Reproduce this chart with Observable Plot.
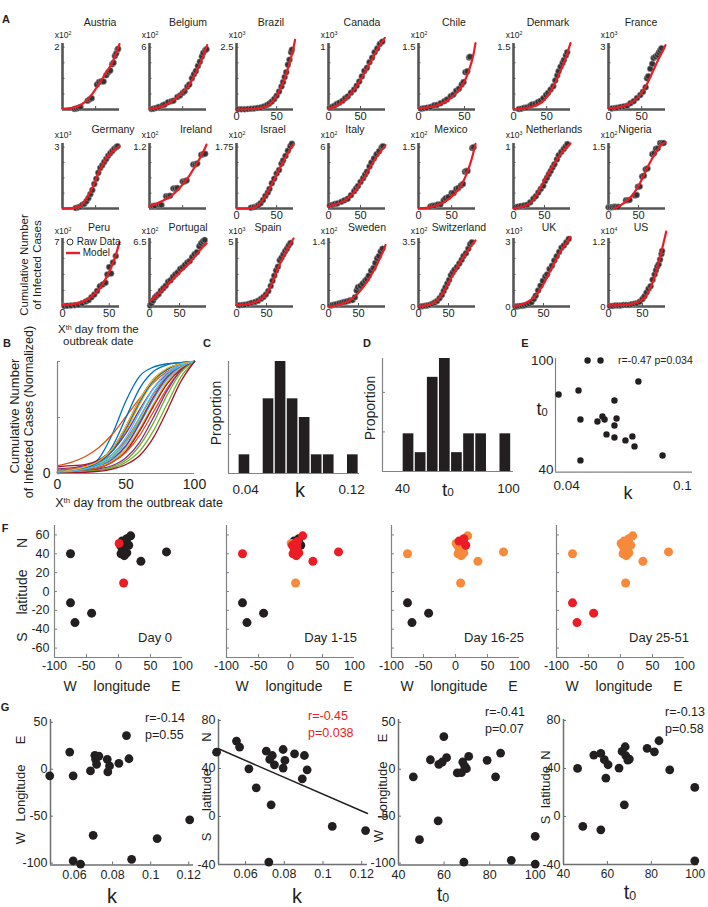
<!DOCTYPE html>
<html><head><meta charset="utf-8">
<script src="https://cdn.jsdelivr.net/npm/d3@7"></script>
<script src="https://cdn.jsdelivr.net/npm/@observablehq/plot@0.6"></script>
<style>
html,body{margin:0;padding:0;background:#fff;}
#root{position:relative;width:708px;height:907px;overflow:hidden;background:#fff;font-family:"Liberation Sans",Arial,Helvetica,sans-serif;color:#231f20;}
#root svg{position:absolute;overflow:visible;}
.t{position:absolute;white-space:nowrap;line-height:1;}
.sup{font-size:0.62em;vertical-align:0.5em;}
.sub{font-size:0.62em;vertical-align:-0.05em;}
</style></head>
<body><div id="root"></div>
<script>
// ===================== DATA =====================
// Panel A: countries, axis multipliers, top tick values, day range
const countries = ["Austria","Belgium","Brazil","Canada","Chile","Denmark","France",
  "Germany","Ireland","Israel","Italy","Mexico","Netherlands","Nigeria",
  "Peru","Portugal","Spain","Sweden","Switzerland","UK","US"];
const multiplier = ["2","2","3","3","2","2","3", "3","2","2","2","2","3","2", "2","2","3","2","2","3","4"];
const topTick = [2,6,2.5,1,1.5,1.5,3, 3,1.2,1.75,6,1.5,1,1.5, 7,6.5,5,1.4,3.5,3,1.2];
const topTickText = ["2","6","2.5","1","1.5","1.5","3","3","1.2","1.75","6","1.5","1","1.5","7","6.5","5","1.4","3.5","3","1.2"];
const dayMax = [86,86,71,89,62,86,86, 86,86,71,89,86,92,95, 61,95,95,95,95,95,84];
const showDayLabels = [false,false,true,true,true,true,true, false,false,true,true,true,true,true, true,true,true,true,true,true,true];
const showZeroLabel = [false,false,false,false,false,false,false, false,false,false,false,false,false,false, false,false,false,true,true,true,true];

// Raw data [day, cases in axis units] per country
const rawData = [
  [[18,0.02],[21,0.03],[24,0.05],[27,0.08],[38,0.28],[41,0.33],[44,0.36],[52,0.8],[55,0.88],[58,0.9],[62,0.9],[66,1.1],[69,1.2],[72,1.25],[75,1.45],[77,1.5],[79,1.72],[81,1.8],[83,1.92],[84,1.95]],
  [[3,0.05],[6,0.08],[10,0.15],[14,0.25],[20,0.42],[23,0.48],[28,0.7],[33,0.8],[36,0.85],[42,1.2],[46,1.35],[50,1.6],[53,1.75],[57,2.2],[60,2.4],[64,3.0],[67,3.4],[70,3.7],[73,4.2],[76,4.6],[79,5.1],[81,5.45],[84,5.7],[86,5.8]],
  [[2,0.01],[6,0.01],[10,0.01],[14,0.02],[18,0.03],[22,0.04],[26,0.06],[30,0.08],[34,0.12],[38,0.18],[41,0.24],[44,0.32],[47,0.42],[50,0.55],[53,0.72],[56,0.92],[58,1.1],[60,1.3],[62,1.5],[64,1.8],[66,2.0],[68,2.3],[69,2.4]],
  [[2,0.03],[5,0.04],[9,0.06],[13,0.09],[17,0.11],[22,0.14],[26,0.18],[30,0.21],[35,0.27],[40,0.32],[44,0.38],[48,0.45],[52,0.53],[56,0.62],[60,0.67],[64,0.76],[68,0.83],[72,0.92],[76,0.98],[80,1.05],[84,1.09]],
  [[3,0.02],[6,0.03],[9,0.04],[13,0.06],[17,0.1],[20,0.11],[24,0.15],[28,0.2],[31,0.24],[35,0.32],[38,0.36],[41,0.45],[44,0.5],[47,0.6],[49,0.66],[51,0.9],[53,0.92],[55,1.25],[56,1.27]],
  [[8,0.01],[12,0.02],[16,0.04],[20,0.05],[25,0.09],[28,0.12],[33,0.14],[37,0.18],[41,0.21],[45,0.27],[49,0.35],[52,0.4],[56,0.48],[60,0.56],[63,0.7],[66,0.82],[68,0.92],[71,1.03],[74,1.12],[76,1.19],[79,1.3],[81,1.38]],
  [[5,0.05],[10,0.07],[13,0.08],[18,0.12],[23,0.15],[28,0.18],[33,0.3],[38,0.4],[43,0.55],[48,0.7],[52,0.85],[56,1.07],[58,1.5],[60,1.6],[63,1.96],[66,2.2],[68,2.48],[71,2.55],[74,2.63],[76,2.75],[78,2.85],[80,2.95]],
  [[20,0.03],[24,0.06],[27,0.1],[30,0.18],[33,0.23],[36,0.35],[39,0.5],[42,0.7],[45,0.9],[48,1.2],[51,1.45],[54,1.75],[57,1.98],[60,2.12],[63,2.28],[66,2.42],[69,2.58],[72,2.7],[75,2.81],[78,2.92],[81,3.0],[83,3.05]],
  [[5,0.05],[8,0.055],[15,0.07],[18,0.07],[25,0.24],[28,0.24],[31,0.25],[36,0.39],[39,0.39],[42,0.4],[50,0.53],[53,0.53],[56,0.55],[66,0.86],[69,0.86],[72,0.88],[78,1.05],[81,1.06],[84,1.07]],
  [[18,0.02],[22,0.04],[25,0.06],[27,0.09],[30,0.15],[33,0.24],[36,0.36],[39,0.46],[41,0.56],[44,0.72],[47,0.85],[50,1.0],[53,1.1],[56,1.28],[58,1.37],[61,1.5],[64,1.65],[67,1.78],[69,1.85]],
  [[2,0.3],[6,0.35],[10,0.45],[14,0.5],[20,0.65],[25,0.8],[30,0.95],[35,1.3],[40,1.7],[43,1.95],[46,2.2],[50,2.6],[54,2.96],[57,3.3],[60,3.6],[64,4.1],[67,4.5],[71,4.9],[75,5.3],[79,5.6],[83,6.0],[85,6.1]],
  [[18,0.05],[21,0.07],[24,0.07],[29,0.1],[33,0.1],[38,0.2],[41,0.25],[45,0.28],[50,0.38],[53,0.38],[57,0.48],[60,0.5],[64,0.56],[67,0.6],[70,0.9],[72,0.92],[74,0.92],[81,1.48],[83,1.5]],
  [[3,0.02],[7,0.03],[12,0.04],[17,0.05],[22,0.06],[27,0.1],[32,0.16],[36,0.2],[40,0.26],[44,0.32],[48,0.37],[51,0.45],[54,0.5],[57,0.56],[60,0.61],[63,0.67],[66,0.72],[70,0.8],[73,0.87],[77,0.92],[81,0.97],[84,1.01],[87,1.05]],
  [[0,0.03],[3,0.03],[6,0.03],[9,0.04],[12,0.04],[16,0.04],[29,0.2],[32,0.2],[35,0.21],[44,0.32],[47,0.33],[49,0.53],[52,0.54],[56,0.78],[59,0.8],[62,0.96],[65,0.98],[73,1.33],[76,1.35],[79,1.46],[82,1.47],[86,1.6],[89,1.6],[92,1.6]],
  [[2,0.05],[5,0.08],[9,0.1],[13,0.15],[17,0.2],[21,0.35],[25,0.55],[28,0.7],[31,1.0],[34,1.3],[37,1.7],[40,2.2],[43,2.4],[46,2.6],[48,3.5],[50,4.3],[52,3.6],[54,4.8],[57,5.5]],
  [[1,0.1],[3,0.3],[6,0.6],[9,0.9],[12,1.1],[15,1.25],[19,1.6],[23,1.85],[27,2.1],[31,2.5],[35,2.65],[39,3.0],[43,3.25],[47,3.45],[51,3.8],[55,3.95],[59,4.2],[63,4.45],[67,4.6],[71,5.0],[75,5.3],[79,5.5],[83,6.1],[86,6.4],[89,6.6],[92,6.74]],
  [[5,0.1],[10,0.12],[14,0.14],[20,0.2],[25,0.28],[31,0.35],[36,0.45],[41,0.6],[45,0.75],[49,0.94],[53,1.2],[57,1.6],[60,2.0],[63,2.4],[66,2.8],[69,3.1],[72,3.6],[75,3.8],[78,4.05],[81,4.3],[84,4.5],[87,4.75],[90,4.95]],
  [[3,0.02],[6,0.03],[9,0.04],[13,0.05],[18,0.07],[22,0.08],[26,0.1],[30,0.11],[35,0.13],[40,0.14],[44,0.2],[47,0.35],[49,0.42],[53,0.45],[57,0.5],[61,0.56],[64,0.6],[67,0.67],[71,0.78],[75,0.84],[78,0.95],[81,1.05],[84,1.1],[87,1.2],[90,1.26]],
  [[3,0.0],[7,0.02],[11,0.04],[15,0.06],[19,0.09],[23,0.15],[27,0.22],[31,0.3],[35,0.45],[39,0.63],[42,0.85],[45,1.05],[48,1.25],[51,1.45],[54,1.7],[57,1.85],[60,2.0],[64,2.15],[68,2.35],[72,2.55],[75,2.75],[79,2.9],[83,3.15],[86,3.4],[89,3.5]],
  [[3,0.0],[6,0.0],[10,0.02],[14,0.03],[18,0.05],[22,0.08],[26,0.13],[30,0.2],[34,0.35],[37,0.5],[41,0.75],[45,0.97],[49,1.2],[53,1.4],[56,1.5],[60,1.75],[64,1.9],[68,2.15],[72,2.35],[76,2.55],[80,2.75],[84,2.85],[88,3.0],[92,3.16]],
  [[2,0.01],[6,0.01],[10,0.02],[14,0.02],[18,0.02],[22,0.03],[26,0.03],[30,0.03],[34,0.04],[38,0.05],[42,0.06],[46,0.09],[50,0.14],[53,0.19],[56,0.26],[59,0.33],[62,0.38],[65,0.5],[68,0.6],[70,0.68],[72,0.75],[74,0.79],[76,0.88],[78,0.98],[79,1.04]]
];

// Model curves [day, cases in axis units] per country
const modelData = [
  [[0,0.02],[15,0.05],[25,0.12],[35,0.26],[45,0.5],[55,0.82],[65,1.15],[75,1.5],[86,2.1]],
  [[0,0.05],[10,0.15],[20,0.33],[30,0.65],[40,1.1],[50,1.65],[60,2.4],[70,3.6],[80,5.0],[87,6.2]],
  [[0,0.0],[20,0.02],[30,0.06],[40,0.18],[45,0.33],[50,0.55],[55,0.86],[60,1.25],[65,1.75],[70,2.35],[73,2.8]],
  [[0,0.01],[10,0.05],[20,0.11],[30,0.2],[40,0.32],[50,0.48],[60,0.66],[70,0.85],[80,1.03],[88,1.15]],
  [[0,0.02],[10,0.05],[20,0.1],[30,0.2],[40,0.38],[45,0.5],[50,0.68],[55,0.95],[60,1.35],[62,1.6]],
  [[0,0.0],[20,0.04],[30,0.08],[40,0.15],[50,0.3],[55,0.42],[60,0.56],[65,0.72],[70,0.9],[75,1.1],[80,1.3],[86,1.6]],
  [[0,0.05],[10,0.08],[20,0.14],[30,0.25],[40,0.45],[50,0.8],[60,1.35],[65,1.7],[70,2.05],[75,2.4],[80,2.7],[86,3.1]],
  [[0,0.0],[10,0.01],[20,0.04],[30,0.2],[40,0.7],[45,1.0],[50,1.4],[55,1.8],[60,2.1],[65,2.4],[70,2.6],[75,2.78],[80,2.92],[86,3.05]],
  [[0,0.05],[10,0.09],[20,0.15],[30,0.22],[40,0.33],[50,0.47],[60,0.64],[70,0.85],[80,1.08],[86,1.25]],
  [[0,0.0],[10,0.0],[20,0.02],[25,0.06],[30,0.16],[35,0.32],[40,0.52],[45,0.74],[50,0.97],[55,1.2],[60,1.42],[65,1.62],[71,1.85]],
  [[0,0.2],[10,0.4],[20,0.6],[30,1.0],[40,1.6],[50,2.5],[60,3.5],[70,4.6],[80,5.5],[89,6.2]],
  [[0,0.0],[20,0.04],[30,0.09],[40,0.17],[50,0.29],[60,0.46],[65,0.58],[70,0.75],[75,0.95],[80,1.2],[86,1.58]],
  [[0,0.0],[10,0.02],[20,0.05],[30,0.12],[40,0.27],[50,0.46],[60,0.63],[70,0.8],[80,0.94],[92,1.06]],
  [[10,0.0],[20,0.08],[30,0.18],[40,0.33],[50,0.55],[60,0.85],[70,1.15],[80,1.4],[90,1.58],[95,1.62]],
  [[0,0.15],[10,0.25],[20,0.45],[30,1.0],[40,2.0],[45,2.8],[50,3.8],[55,5.0],[61,7.0]],
  [[0,0.55],[10,1.0],[20,1.6],[30,2.2],[40,2.85],[50,3.45],[60,4.0],[70,4.7],[80,5.4],[90,6.1],[95,6.4]],
  [[0,0.1],[20,0.2],[30,0.32],[40,0.55],[50,1.0],[55,1.4],[60,1.9],[65,2.5],[70,3.1],[75,3.6],[80,4.1],[90,4.9],[95,5.3]],
  [[0,0.0],[20,0.05],[30,0.1],[40,0.18],[50,0.3],[60,0.46],[70,0.66],[80,0.9],[90,1.18],[95,1.34]],
  [[0,0.02],[10,0.05],[20,0.12],[30,0.3],[40,0.7],[50,1.3],[60,1.9],[70,2.45],[80,2.95],[90,3.4],[95,3.6]],
  [[0,0.02],[10,0.07],[20,0.16],[30,0.32],[40,0.62],[50,1.05],[60,1.6],[70,2.15],[80,2.65],[90,3.05],[95,3.25]],
  [[0,0.02],[20,0.03],[30,0.04],[40,0.07],[50,0.13],[55,0.2],[60,0.3],[65,0.45],[70,0.64],[75,0.87],[80,1.13],[85,1.4]]
];

// Panel B: normalized model curves sampled at these days
const bDays = [0,10,20,30,40,50,60,70,80,90,100];
const bCurves = [
  [0.01,0.02,0.05,0.13,0.35,0.65,0.87,0.95,0.98,0.99,1],
  [0.07,0.10,0.15,0.23,0.35,0.51,0.67,0.81,0.91,0.97,1],
  [0.02,0.03,0.05,0.10,0.20,0.38,0.62,0.82,0.93,0.98,1],
  [0.04,0.05,0.07,0.11,0.20,0.36,0.57,0.76,0.89,0.96,1],
  [0.02,0.03,0.05,0.08,0.15,0.28,0.47,0.68,0.85,0.95,1],
  [0.01,0.02,0.03,0.06,0.12,0.24,0.44,0.66,0.84,0.95,1],
  [0.06,0.07,0.08,0.12,0.22,0.42,0.66,0.84,0.93,0.98,1],
  [0.01,0.015,0.035,0.09,0.24,0.50,0.76,0.91,0.97,0.99,1],
  [0.03,0.04,0.06,0.10,0.17,0.30,0.50,0.71,0.87,0.96,1],
  [0.01,0.02,0.03,0.06,0.11,0.22,0.40,0.62,0.82,0.94,1],
  [0.02,0.03,0.04,0.07,0.13,0.25,0.45,0.68,0.86,0.96,1],
  [0.01,0.01,0.02,0.03,0.05,0.10,0.20,0.38,0.62,0.86,1],
  [0.02,0.03,0.05,0.09,0.17,0.32,0.55,0.76,0.90,0.97,1],
  [0.01,0.015,0.03,0.05,0.10,0.20,0.38,0.60,0.80,0.93,1],
  [0.02,0.03,0.05,0.10,0.20,0.40,0.64,0.83,0.93,0.98,1],
  [0.01,0.02,0.03,0.05,0.10,0.19,0.34,0.55,0.76,0.92,1],
  [0.02,0.03,0.06,0.11,0.22,0.42,0.66,0.84,0.94,0.98,1],
  [0.01,0.01,0.02,0.04,0.07,0.14,0.28,0.50,0.74,0.92,1],
  [0.01,0.01,0.02,0.03,0.06,0.12,0.25,0.45,0.70,0.90,1],
  [0.01,0.02,0.04,0.07,0.14,0.28,0.50,0.72,0.88,0.96,1],
  [0.00,0.005,0.01,0.02,0.04,0.08,0.16,0.32,0.56,0.82,1]
];

// Panel C: histogram of k
const kBinEdges = [0.0345,0.0436,0.0527,0.0618,0.0709,0.0800,0.0891,0.0982,0.1073,0.1164,0.1255];
const kCounts   = [1,0,4,6,4,3,1,1,0,1];
// Panel D: histogram of t0
const tBinEdges = [40,46.84,53.69,60.53,67.38,74.22,81.07,87.91,94.76,101.6];
const tCounts   = [2,1,5,6,1,2,2,0,2];

// Panel E: k vs t0
const eK  = [0.0509,0.0576,0.0359,0.0462,0.0772,0.0648,0.0472,0.0560,0.0586,0.0597,0.0659,0.0648,0.0607,0.0648,0.0705,0.0741,0.0752,0.0897,0.0472];
const eT0 = [100,100,81.3,83.5,88.4,78,67.5,66.4,69.2,67.5,68.1,64.2,59.3,57.6,56,58.2,52.7,47.7,45];

// Panel F: country locations and outbreak period (0: Day 0, 1: Day 1-15, 2: Day 16-25, 3: Day 25-51)
const mapLon   = [-75,-75,-68,-42,1,8,35,75,19,5.5,13,16,4,9,13,6,10,8,11,3,7];
const mapLat   = [40,-12,-33,-23,51,9,32,42,59,53.5,56,49,40,38,41,45,47,51,53,49,43];
const mapGroup = [1,3,3,3,0,0,1,1,1,2,2,2,1,1,1,1,1,1,1,1,1];
const dayLabels = ["Day 0","Day 1-15","Day 16-25","Day 25-51"];

// Panel G
const g1K   = [0.047,0.0575,0.0593,0.0593,0.0632,0.0684,0.0698,0.0707,0.0711,0.0716,0.0728,0.0772,0.0775,0.0784,0.0833,0.0873,0.0886,0.09,0.1034,0.1205];
const g1Lon = [-7,18.3,-7,-97.6,-101,-1.8,-70.4,14.8,10.6,5.3,14,10.6,-2.8,3.5,6.3,35.9,11.2,-96,-73.9,-53.9];
const g2K   = [0.045,0.0553,0.0569,0.0617,0.0655,0.0707,0.0725,0.0738,0.0749,0.0732,0.072,0.0794,0.0794,0.0803,0.0853,0.0893,0.0904,0.0918,0.1048,0.122];
const g2Lat = [53.6,62.8,57.8,39.7,23.9,54.4,47.5,50.8,43,9.7,-38,55.8,40.3,46.7,52.2,31.4,50.8,38.9,-8.3,-11.7];
const g2FitK = [0.046,0.123];
const g2FitLat = [56.4,2.5];
const g3T0  = [46.5,49.2,54,57.4,57.7,59.2,59.9,61.1,65.8,67.6,68.2,69.1,69.8,70.8,68.7,78.9,82.6,84.8,89.5,100,100];
const g3Lon = [-8.1,-75,10.1,-55,5.3,7.7,34.8,12.3,-3.9,-3.6,7.7,3.2,0.6,13.7,-99,9.5,-8.1,17.2,-97,-71.5,-101];
const g4T0  = [46.4,48.8,53.8,57,57,58.6,59.3,60.3,65.3,66.7,67.7,68.1,68.4,69.3,70,78.1,81.4,83.5,88.4,99.8,99.8];
const g4Lat = [40,-8.3,51.2,52.5,-11.1,47.3,32,43.1,40.3,54.2,9.7,58.1,50.6,47,47.8,56.7,53.9,63.1,38.9,24.2,-36.9];
const gStats = [["r=-0.14","p=0.55"],["r=-0.45","p=0.038"],["r=-0.41","p=0.07"],["r=-0.13","p=0.58"]];

// ===================== LAYOUT / STYLE =====================
const INK = "#231f20", RED = "#ec1c24", ORANGE = "#f7893b", AXIS = "#6d6e71", AGRAY = "#555555";
const MATLAB = ["#0072BD","#D95319","#EDB120","#7E2F8E","#77AC30","#4DBEEE","#A2142F"];
const FONT = '"Liberation Sans", Arial, Helvetica, sans-serif';
const root = document.getElementById("root");

function txt(html, x, y, o = {}) {
  const d = document.createElement("div");
  d.className = "t";
  d.innerHTML = html;
  const a = o.anchor || "middle";
  const tx = a === "middle" ? "-50%" : a === "end" ? "-100%" : "0";
  d.style.left = x + "px"; d.style.top = y + "px";
  d.style.fontSize = (o.size || 12) + "px";
  if (o.bold) d.style.fontWeight = "bold";
  if (o.color) d.style.color = o.color;
  d.style.transform = `translate(${tx},-50%)` + (o.rotate ? " rotate(-90deg)" : "");
  root.appendChild(d);
}

function panel({x0, y0, w, h, xd, yd, marks}) {
  const mL = 50, mR = 20, mT = 15, mB = 35;
  const svg = Plot.plot({
    width: mL + w + mR, height: mT + h + mB,
    marginLeft: mL, marginRight: mR, marginTop: mT, marginBottom: mB,
    x: {domain: xd, axis: null}, y: {domain: yd, axis: null},
    color: {type: "identity"},
    style: {fontFamily: FONT, color: INK, background: "transparent", overflow: "visible"},
    marks
  });
  svg.style.left = (x0 - mL) + "px";
  svg.style.top = (y0 - mT) + "px";
  root.appendChild(svg);
}
const axisLines = (xd, yd, stroke = AXIS, sw = 1.3) => [
  Plot.ruleX([xd[0]], {stroke, strokeWidth: sw}),
  Plot.ruleY([yd[0]], {stroke, strokeWidth: sw})
];
const yTicksIn = (vals, w, len = 3, stroke = AXIS) => Plot.tickY(vals, {y: d => d, insetRight: w - len, stroke, strokeWidth: 1});
const xTicksIn = (vals, h, len = 3, stroke = AXIS) => Plot.tickX(vals, {x: d => d, insetTop: h - len, stroke, strokeWidth: 1});
const fmt = d => String(d);
const T0 = 't<span class="sub">0</span>';

// ===================== PANEL A =====================
const colX = [62,149,236,328,418,513,608];
const rowTop = [43,143,238], rowH = [66,65,68];
const titleY = [22,129,227], multY = [35,135,231];
const titleCx = [100,188,271,362,454,548,641, 113,196,273,355,451,554,635, 99,188,268,367,459,549,641];
const AW = 57;

countries.forEach((name, i) => {
  const r = Math.floor(i / 7), c = i % 7;
  const x0 = colX[c], y0 = rowTop[r], h = rowH[r];
  const top = topTick[i];
  const xd = [0, dayMax[i]], yd = [0, top * 1.06];
  const marks = [
    Plot.ruleX([0], {stroke: AGRAY, strokeWidth: 2.6}),
    Plot.ruleY([0], {stroke: AGRAY, strokeWidth: 2.6}),
    yTicksIn([0.25,0.5,0.75,1].map(f => f * top), AW, 2.5, AGRAY),
    xTicksIn([50], h, 3, AGRAY),
    Plot.dot(rawData[i], {x: d => d[0], y: d => d[1], r: 3, fill: "#333333", stroke: "#9a9a9a", strokeWidth: 0.6}),
    Plot.line(modelData[i], {x: d => d[0], y: d => d[1], stroke: RED, strokeWidth: 2.2, curve: "monotone-x"}),
    Plot.axisY({ticks: showZeroLabel[i] ? [0, top] : [top], tickSize: 0, tickPadding: 3, fontSize: 9.5, label: null,
      tickFormat: d => d === 0 ? "0" : topTickText[i]})
  ];
  if (showDayLabels[i]) marks.push(Plot.axisX({ticks: [0, 50], tickSize: 0, tickPadding: 3, fontSize: 11, label: null, tickFormat: fmt}));
  panel({x0, y0, w: AW, h, xd, yd, marks});
  txt(name, titleCx[i], titleY[r], {size: 10.5});
  txt('x10<span class="sup">' + multiplier[i] + "</span>", x0 + 1, multY[r], {size: 8.5});
});
// Peru legend
txt('<svg width="8" height="8" style="position:static;vertical-align:middle"><circle cx="4" cy="4" r="3" fill="none" stroke="#231f20" stroke-width="0.9"/></svg> Raw Data', 66, 242, {anchor: "start", size: 10});
txt('<svg width="14" height="4" style="position:static;vertical-align:middle"><line x1="0" y1="2" x2="14" y2="2" stroke="' + RED + '" stroke-width="2.4"/></svg> Model', 66, 253, {anchor: "start", size: 10});
txt("Cumulative Number", 25, 265, {rotate: true, size: 11.5});
txt("of Infected Cases", 38, 265, {rotate: true, size: 11.5});
txt('X<span class="sup">th</span> day from the', 58, 330, {anchor: "start", size: 11.5});
txt("outbreak date", 63, 342, {anchor: "start", size: 11.5});

// ===================== PANEL B =====================
panel({x0: 57, y0: 361, w: 137, h: 112, xd: [0, 100], yd: [0, 1], marks: [
  ...bCurves.map((ys, j) => Plot.line(ys.map((v, k) => [bDays[k], v]),
      {x: d => d[0], y: d => d[1], stroke: MATLAB[j % 7], strokeWidth: 1.3, curve: "monotone-x"})),
  ...axisLines([0, 100], [0, 1], "#808285", 1.2),
  yTicksIn([0.5, 1], 137, 3, "#808285"),
  Plot.axisX({ticks: [0, 50, 100], tickSize: 0, tickPadding: 6, fontSize: 14, label: null, tickFormat: fmt}),
  Plot.axisY({ticks: [0], tickSize: 0, tickPadding: 7, fontSize: 14, label: null, tickFormat: fmt})
]});
txt("Cumulative Number", 14, 416, {rotate: true, size: 13});
txt("of Infected Cases (Normalized)", 29, 412, {rotate: true, size: 12.5});
txt('X<span class="sup">th</span> day from the outbreak date', 139, 503, {size: 12.5});

// ===================== PANEL C =====================
const kTotal = d3.sum(kCounts);
const kBins = kCounts.map((c, i) => ({x1: kBinEdges[i], x2: kBinEdges[i + 1], p: c / kTotal}));
panel({x0: 228, y0: 361, w: 131, h: 112, xd: [0.027, 0.126], yd: [0, 6 / 21], marks: [
  Plot.rectY(kBins, {x1: "x1", x2: "x2", y: "p", fill: INK, insetLeft: 0.7, insetRight: 0.7}),
  ...axisLines([0.027, 0.126], [0, 1], "#808285", 1.2),
  yTicksIn([0.1, 0.2], 131, 3, "#808285"),
  Plot.axisX({ticks: [0.04, 0.12], tickSize: 0, tickPadding: 11, fontSize: 13.5, label: null, tickFormat: d3.format(".2f")})
]});
txt("Proportion", 216, 413, {rotate: true, size: 14});
txt("k", 300, 490, {size: 20});

// ===================== PANEL D =====================
const tTotal = d3.sum(tCounts);
const tBins = tCounts.map((c, i) => ({x1: tBinEdges[i], x2: tBinEdges[i + 1], p: c / tTotal}));
panel({x0: 382, y0: 358, w: 131, h: 113, xd: [28.7, 102.8], yd: [0, 6 / 21], marks: [
  Plot.rectY(tBins, {x1: "x1", x2: "x2", y: "p", fill: INK, insetLeft: 0.7, insetRight: 0.7}),
  ...axisLines([28.7, 102.8], [0, 1], "#808285", 1.2),
  yTicksIn([0.1, 0.2], 131, 3, "#808285"),
  Plot.axisX({ticks: [40, 100], tickSize: 0, tickPadding: 12, fontSize: 13.5, label: null, tickFormat: fmt})
]});
txt("Proportion", 370, 408, {rotate: true, size: 14});
txt(T0, 448, 489, {size: 19});

// ===================== PANEL E =====================
panel({x0: 555, y0: 358, w: 137, h: 113.7, xd: [0.0343, 0.1052], yd: [38.5, 101.1], marks: [
  ...axisLines([0.0343, 0.1052], [38.5, 101.1], "#808285", 1.2),
  Plot.dot(eK.map((k, i) => [k, eT0[i]]), {x: d => d[0], y: d => d[1], r: 3.2, fill: INK}),
  Plot.axisX({ticks: [0.04, 0.1], tickSize: 0, tickPadding: 8, fontSize: 13.5, label: null, tickFormat: fmt}),
  Plot.axisY({ticks: [40, 100], tickSize: 0, tickPadding: 2, fontSize: 13.5, label: null, tickFormat: fmt})
]});
txt("r=-0.47 p=0.034", 618, 360, {anchor: "start", size: 10.5});
txt(T0, 542, 409, {size: 18});
txt("k", 628, 493, {size: 18});

// ===================== PANEL F =====================
const mapX0 = [54, 226, 391, 556];
const dayTextRight = [118, 131, 133, 133];
mapX0.forEach((x0, m) => {
  const pts = mapLon.map((lon, i) => ({lon, lat: mapLat[i], c: mapGroup[i] < m ? 1 : mapGroup[i] === m ? 2 : 0}));
  pts.sort((a, b) => a.c - b.c);
  const marks = [
    ...axisLines([-100, 100], [-70, 70], "#808285", 1.2),
    yTicksIn([-60, -40, -20, 0, 20, 40, 60], 128, 3, "#808285"),
    xTicksIn([-50, 0, 50], 132, 3, "#808285"),
    Plot.dot(pts, {x: "lon", y: "lat", r: 4.5, fill: d => [INK, ORANGE, RED][d.c]}),
    Plot.axisX({ticks: [-100, -50, 0, 50, 100], tickSize: 0, tickPadding: 4, fontSize: 12.5, label: null, tickFormat: fmt})
  ];
  if (m === 0) marks.push(Plot.axisY({ticks: [-60, -40, -20, 0, 20, 40, 60], tickSize: 0, tickPadding: 5, fontSize: 12.5, label: null, tickFormat: fmt}));
  panel({x0, y0: 525, w: 128, h: 132, xd: [-100, 100], yd: [-70, 70], marks});
  txt(dayLabels[m], x0 + dayTextRight[m], 637, {anchor: "end", size: 13});
  txt("W", x0 + 16, 686, {size: 14});
  txt("longitude", x0 + 68, 686, {size: 14});
  txt("E", x0 + 122, 686, {size: 14});
});
txt("N", 22, 543, {rotate: true, size: 14});
txt("latitude", 22, 592, {rotate: true, size: 14});
txt("S", 22, 637, {rotate: true, size: 14});

// ===================== PANEL G =====================
const gPanels = [
  {x0: 50, w: 143, h: 145.5, xd: [0.0474, 0.1225], yd: [-102, 53], xt: [0.06, 0.08, 0.1, 0.12], yt: [-100, -50, 0, 50], xs: g1K, ys: g1Lon, fs: 12.5},
  {x0: 218, w: 149, h: 145, xd: [0.046, 0.123], yd: [-40, 80.8], xt: [0.06, 0.08, 0.1, 0.12], yt: [-40, 0, 40, 80], xs: g2K, ys: g2Lat, fs: 12.5},
  {x0: 398, w: 139, h: 145.5, xd: [40, 101], yd: [-102, 53], xt: [40, 60, 80, 100], yt: [-100, -50, 0, 50], xs: g3T0, ys: g3Lon, fs: 12.5},
  {x0: 562.7, w: 135, h: 145, xd: [40, 101.5], yd: [-40, 80.8], xt: [40, 60, 80, 100], yt: [-40, 0, 40, 80], xs: g4T0, ys: g4Lat, fs: 12}
];
gPanels.forEach((g, gi) => {
  const marks = [
    ...axisLines(g.xd, g.yd, AXIS, 1.5),
    yTicksIn(g.yt, g.w, 3, AXIS),
    xTicksIn(g.xt, g.h, 3, AXIS),
    Plot.dot(g.xs.map((x, i) => [x, g.ys[i]]), {x: d => d[0], y: d => d[1], r: 4.4, fill: INK}),
    Plot.axisX({ticks: g.xt, tickSize: 0, tickPadding: 5, fontSize: g.fs, label: null, tickFormat: fmt}),
    Plot.axisY({ticks: g.yt, tickSize: 0, tickPadding: 3, fontSize: 12.5, label: null, tickFormat: fmt})
  ];
  if (gi === 1) marks.push(Plot.line(g2FitK.map((k, i) => [k, g2FitLat[i]]), {x: d => d[0], y: d => d[1], stroke: INK, strokeWidth: 1.5}));
  panel({x0: g.x0, y0: 719, w: g.w, h: g.h, xd: g.xd, yd: g.yd, marks});
});
const statX = [145, 308, 485, 665], statY = [718, 716, 712, 712];
gStats.forEach((s, i) => {
  const col = i === 1 ? RED : INK;
  txt(s[0], statX[i], statY[i], {anchor: "start", size: 12.5, color: col});
  txt(s[1], statX[i], statY[i] + 17, {anchor: "start", size: 12.5, color: col});
});
txt("k", 112, 896, {size: 20});
txt("k", 297, 896, {size: 20});
txt(T0, 443, 894, {size: 20});
txt(T0, 630, 892, {size: 20});
txt("W", 20, 838, {rotate: true, size: 13});
txt("Longitude", 20, 793, {rotate: true, size: 13});
txt("E", 20, 740, {rotate: true, size: 13});
txt("N", 206, 737, {rotate: true, size: 13});
txt("latitude", 206, 790, {rotate: true, size: 13});
txt("S", 206, 837, {rotate: true, size: 13});
txt("W", 378, 836, {rotate: true, size: 13});
txt("Longitude", 382, 790, {rotate: true, size: 13});
txt("E", 382, 738, {rotate: true, size: 13});
txt("N", 545, 755, {rotate: true, size: 13});
txt("latitude", 545, 787, {rotate: true, size: 13});
txt("S", 545, 820, {rotate: true, size: 13});

// Panel letters
[["A", 6, 19], ["B", 7, 343], ["C", 207, 343], ["D", 367, 343], ["E", 525, 343], ["F", 5, 528], ["G", 5, 707]]
  .forEach(([l, x, y]) => txt(l, x, y, {bold: true, size: 11}));
</script></body></html>
